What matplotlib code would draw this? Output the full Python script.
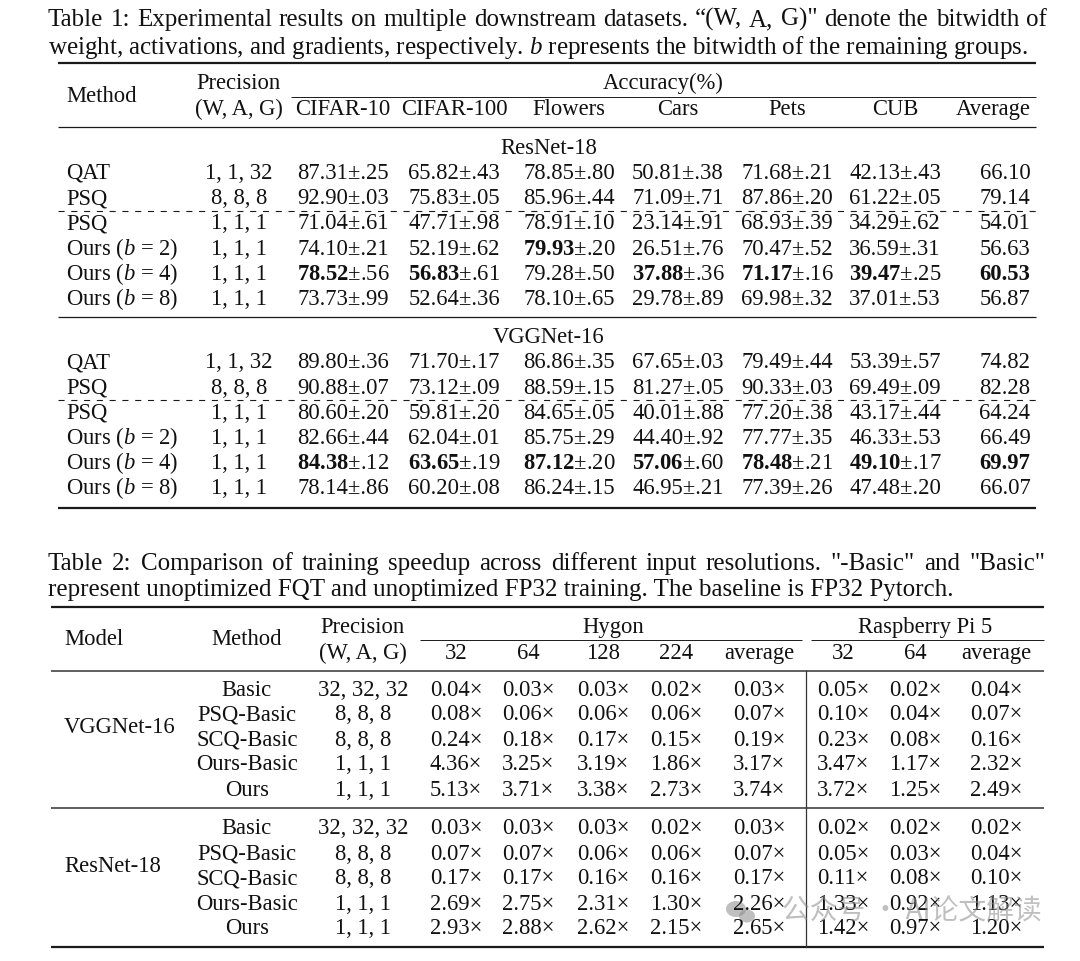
import matplotlib.pyplot as plt
from matplotlib.patches import Ellipse

plt.rcParams["font.family"] = ["Liberation Serif", "DejaVu Serif"]
plt.rcParams["mathtext.fontset"] = "custom"
plt.rcParams["mathtext.rm"] = "Liberation Serif"
plt.rcParams["mathtext.it"] = "Liberation Serif:italic"
plt.rcParams["mathtext.bf"] = "Liberation Serif:bold"

# ---- table 1 data ----
t1_methods = ["QAT", "PSQ", "PSQ", "Ours ($b$ = 2)", "Ours ($b$ = 4)", "Ours ($b$ = 8)"]
t1_precision = ["1, 1, 32", "8, 8, 8", "1, 1, 1", "1, 1, 1", "1, 1, 1", "1, 1, 1"]
t1_datasets = ["CIFAR-10", "CIFAR-100", "Flowers", "Cars", "Pets", "CUB"]

resnet_mean = [
    [87.31, 65.82, 78.85, 50.81, 71.68, 42.13],
    [92.90, 75.83, 85.96, 71.09, 87.86, 61.22],
    [71.04, 47.71, 78.91, 23.14, 68.93, 34.29],
    [74.10, 52.19, 79.93, 26.51, 70.47, 36.59],
    [78.52, 56.83, 79.28, 37.88, 71.17, 39.47],
    [73.73, 52.64, 78.10, 29.78, 69.98, 37.01],
]
resnet_std = [
    [.25, .43, .80, .38, .21, .43],
    [.03, .05, .44, .71, .20, .05],
    [.61, .98, .10, .91, .39, .62],
    [.21, .62, .20, .76, .52, .31],
    [.56, .61, .50, .36, .16, .25],
    [.99, .36, .65, .89, .32, .53],
]
resnet_avg = [66.10, 79.14, 54.01, 56.63, 60.53, 56.87]

vgg_mean = [
    [89.80, 71.70, 86.86, 67.65, 79.49, 53.39],
    [90.88, 73.12, 88.59, 81.27, 90.33, 69.49],
    [80.60, 59.81, 84.65, 40.01, 77.20, 43.17],
    [82.66, 62.04, 85.75, 44.40, 77.77, 46.33],
    [84.38, 63.65, 87.12, 57.06, 78.48, 49.10],
    [78.14, 60.20, 86.24, 46.95, 77.39, 47.48],
]
vgg_std = [
    [.36, .17, .35, .03, .44, .57],
    [.07, .09, .15, .05, .03, .09],
    [.20, .20, .05, .88, .38, .44],
    [.44, .01, .29, .92, .35, .53],
    [.12, .19, .20, .60, .21, .17],
    [.86, .08, .15, .21, .26, .20],
]
vgg_avg = [74.82, 82.28, 64.24, 66.49, 69.97, 66.07]

# ---- table 2 data ----
t2_methods = ["Basic", "PSQ-Basic", "SCQ-Basic", "Ours-Basic", "Ours"]
t2_precision = ["32, 32, 32", "8, 8, 8", "8, 8, 8", "1, 1, 1", "1, 1, 1"]
hygon_res = ["32", "64", "128", "224", "average"]
rpi_res = ["32", "64", "average"]
vgg_hygon = [
    [0.04, 0.03, 0.03, 0.02, 0.03],
    [0.08, 0.06, 0.06, 0.06, 0.07],
    [0.24, 0.18, 0.17, 0.15, 0.19],
    [4.36, 3.25, 3.19, 1.86, 3.17],
    [5.13, 3.71, 3.38, 2.73, 3.74],
]
vgg_rpi = [
    [0.05, 0.02, 0.04],
    [0.10, 0.04, 0.07],
    [0.23, 0.08, 0.16],
    [3.47, 1.17, 2.32],
    [3.72, 1.25, 2.49],
]
res_hygon = [
    [0.03, 0.03, 0.03, 0.02, 0.03],
    [0.07, 0.07, 0.06, 0.06, 0.07],
    [0.17, 0.17, 0.16, 0.16, 0.17],
    [2.69, 2.75, 2.31, 1.30, 2.26],
    [2.93, 2.88, 2.62, 2.15, 2.65],
]
res_rpi = [
    [0.02, 0.02, 0.02],
    [0.05, 0.03, 0.04],
    [0.11, 0.08, 0.10],
    [1.33, 0.92, 1.13],
    [1.42, 0.97, 1.20],
]

cap1 = [
    "Table 1: Experimental results on multiple downstream datasets. \u201c(W, A, G)\" denote the bitwidth of",
    "weight, activations, and gradients, respectively. $b$ represents the bitwidth of the remaining groups.",
]
cap2 = [
    "Table 2: Comparison of training speedup across different input resolutions. \"-Basic\" and \"Basic\"",
    "represent unoptimized FQT and unoptimized FP32 training. The baseline is FP32 Pytorch.",
]

W, H = 1080, 961
FS = 16.3
INK = "#111111"
BO = 7  # baseline offset from visual centre

fig = plt.figure(figsize=(W / 100, H / 100), dpi=100)
ax = fig.add_axes([0, 0, 1, 1])
ax.set_xlim(0, W)
ax.set_ylim(H, 0)
ax.axis("off")
renderer = fig.canvas.get_renderer()


def txt(x, y, s, ha="center", **kw):
    kw.setdefault("fontsize", FS)
    kw.setdefault("color", INK)
    return ax.text(x, y + BO, s, ha=ha, va="baseline", **kw)


def width_of(t):
    return t.get_window_extent(renderer).width


def rule(x0, x1, y, lw, color="#1a1a1a", ls="-"):
    ax.plot([x0, x1], [y, y], color=color, lw=lw, ls=ls, solid_capstyle="butt")


# caption font size fitted from a natural-width line
probe = ax.text(0, 0, cap1[1], fontsize=16)
CFS = 16 * 981 / width_of(probe)
probe.remove()


def caption_line(s, x0, y, x1=None):
    if x1 is None:
        txt(x0, y, s, ha="left", fontsize=CFS)
        return
    words = s.split(" ")
    items = [txt(0, y, w, ha="left", fontsize=CFS) for w in words]
    ws = [width_of(t) for t in items]
    gap = (x1 - x0 - sum(ws)) / (len(words) - 1)
    x = x0
    for t, w in zip(items, ws):
        t.set_x(x)
        x += w + gap


# ---------------- table 1 ----------------
caption_line(cap1[0], 48, 19, 1047)
caption_line(cap1[1], 48, 47)

L1, R1 = 58, 1036
meth_x = 66
prec_x = 239
ds_x = [343, 454, 569, 678, 787, 895]
avg_x = 1005

rule(L1, R1, 63, 1.6)
txt(meth_x, 95, "Method", ha="left")
txt(prec_x, 82, "Precision")
txt(prec_x, 108, "(W, A, G)")
txt(663, 82, "Accuracy(%)")
rule(291, R1, 97, 0.7)
for x, name in zip(ds_x, t1_datasets):
    txt(x, 108, name)
txt(993, 108, "Average")
rule(L1, R1, 127, 0.9)


def t1_group(label, label_y, y0, dash_y, means, stds, avgs):
    txt(549, label_y, label)
    rows = range(len(t1_methods))
    low = [i for i in rows if t1_precision[i] == "1, 1, 1"]
    best = [max(low, key=lambda i: means[i][j]) for j in range(len(t1_datasets))]
    best_avg = max(low, key=lambda i: avgs[i])
    for i in rows:
        y = y0 + i * 25.2
        txt(meth_x, y, t1_methods[i], ha="left")
        txt(prec_x, y, t1_precision[i])
        for j, x in enumerate(ds_x):
            m = f"{means[i][j]:.2f}"
            s = f"{stds[i][j]:.2f}"[1:]
            if best[j] == i:
                cell = "$\\mathbf{" + m + "}$\u00b1" + s
            else:
                cell = m + "\u00b1" + s
            txt(x, y, cell)
        txt(avg_x, y, f"{avgs[i]:.2f}",
            fontweight="bold" if i == best_avg else "normal")
    rule(L1, R1, dash_y, 0.8, ls=(0, (5.5, 6)))


t1_group("ResNet-18", 147, 172, 210.5, resnet_mean, resnet_std, resnet_avg)
rule(L1, R1, 317, 0.9)
t1_group("VGGNet-16", 336, 361.5, 399.5, vgg_mean, vgg_std, vgg_avg)
rule(L1, R1, 507.5, 1.6)

# ---------------- table 2 ----------------
caption_line(cap2[0], 48, 563, 1045)
caption_line(cap2[1], 48, 589)

L2, R2 = 51, 1044
model_x = 64
meth2_x = 247
prec2_x = 363
hy_x = [456, 528, 603, 676, 759]
rp_x = [843, 915, 996]
vline_x = 806

rule(L2, R2, 607, 1.6)
txt(model_x, 638, "Model", ha="left")
txt(meth2_x, 638, "Method")
txt(prec2_x, 626, "Precision")
txt(prec2_x, 652, "(W, A, G)")
txt(613, 626, "Hygon")
txt(925, 626, "Raspberry Pi 5")
rule(420, 802, 640, 0.7)
rule(811, R2, 640, 0.7)
for x, r in zip(hy_x, hygon_res):
    txt(x, 652, r)
for x, r in zip(rp_x, rpi_res):
    txt(x, 652, r)
rule(L2, R2, 671, 1.2, color="#444444")


def t2_group(label, label_y, y0, hygon, rpi):
    txt(model_x, label_y, label, ha="left")
    for i in range(len(t2_methods)):
        y = y0 + i * 25
        txt(meth2_x, y, t2_methods[i])
        txt(prec2_x, y, t2_precision[i])
        for x, v in zip(hy_x, hygon[i]):
            txt(x, y, f"{v:.2f}\u00d7")
        for x, v in zip(rp_x, rpi[i]):
            txt(x, y, f"{v:.2f}\u00d7")


t2_group("VGGNet-16", 726, 688.5, vgg_hygon, vgg_rpi)
rule(L2, R2, 808, 1.2, color="#444444")
t2_group("ResNet-18", 865, 827.5, res_hygon, res_rpi)
rule(L2, R2, 947, 1.6)
ax.plot([vline_x, vline_x], [671, 947], color="#333333", lw=0.9)

# watermark
wm = "#8c8c8c"
ax.add_patch(Ellipse((736, 909), 20, 16, color=wm, alpha=0.55, lw=0))
ax.add_patch(Ellipse((747, 916), 16, 13, color=wm, alpha=0.55, lw=0))
ax.text(782, 911, "公众号 · AI论文解读", fontsize=20, color=wm, alpha=0.55,
        family=["Noto Sans CJK SC", "DejaVu Sans"], ha="left", va="center")

fig.savefig("out.png", dpi=100, facecolor="white")
